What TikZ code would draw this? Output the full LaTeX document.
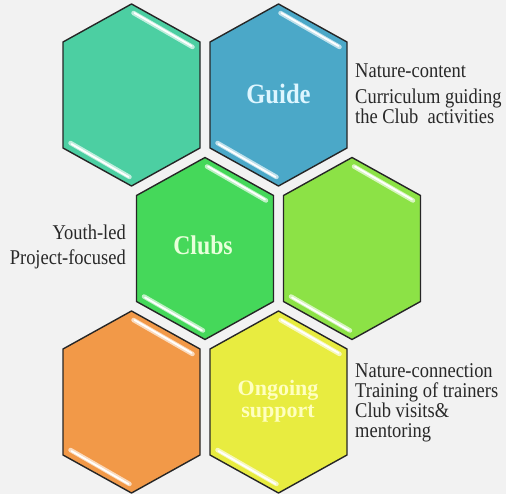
\documentclass[tikz,border=0pt]{standalone}
\usepackage{fontspec}
\setmainfont{Liberation Serif}
\newfontfamily\notefont[FakeStretch=0.88]{Liberation Serif}
\usepackage{xcolor}
\usepackage{tikz}
\usetikzlibrary{positioning,calc}

\definecolor{pagebg}{RGB}{242,242,242}
\definecolor{hexteal}{RGB}{76,207,162}
\definecolor{hexblue}{RGB}{75,168,200}
\definecolor{hexgreen}{RGB}{69,216,90}
\definecolor{hexlime}{RGB}{140,226,70}
\definecolor{hexorange}{RGB}{242,153,72}
\definecolor{hexyellow}{RGB}{232,236,64}
\definecolor{guidetext}{RGB}{222,246,255}
\definecolor{clubstext}{RGB}{232,255,218}
\definecolor{supporttext}{RGB}{255,255,192}
\definecolor{notetext}{RGB}{40,40,40}

\begin{document}
\begin{tikzpicture}[x=1pt, y=-1pt,
    hexline/.style={draw=black!85, line width=1.4pt, line join=round},
    gloss/.style={line width=4.5pt, line cap=round},
    pics/hexcell/.style={code={
        \draw[hexline, fill=#1] (0,-91) -- (68.5,-53) -- (68.5,53) -- (0,91) -- (-68.5,53) -- (-68.5,-53) -- cycle;
        \draw[gloss, draw=#1!35!white] (2,-82) -- (61,-48);
        \draw[gloss, draw=#1!35!white] (-2,82) -- (-61,48);
        \draw[line width=1.8pt, line cap=round, white] (3,-82) -- (60,-49);
        \draw[line width=1.8pt, line cap=round, white] (-3,82) -- (-60,49);
    }},
    hexlabel/.style={font=\notefont\bfseries\fontsize{28}{28}\selectfont},
    note/.style={font=\notefont\fontsize{21}{20}\selectfont, text=notetext, inner sep=0pt}]
        \fill[pagebg] (0,0) rectangle (506,494);
        \useasboundingbox (0,0) rectangle (506,494);

        % Row 1
        \pic at (131.5,95) {hexcell=hexteal};
        \pic at (278.5,95) {hexcell=hexblue};
        \node (guide) [hexlabel, text=guidetext, anchor=base] at (278.5,103.5) {Guide};

        % Row 2
        \pic at (205,248.5) {hexcell=hexgreen};
        \pic at (352,248.5) {hexcell=hexlime};
        \node (clubs) [hexlabel, text=clubstext, anchor=base, font=\notefont\bfseries\fontsize{27}{27}\selectfont] at (203,255) {Clubs};

        % Row 3
        \pic at (131.5,402) {hexcell=hexorange};
        \pic at (278.5,402) {hexcell=hexyellow};
        \node (support) [text=supporttext, anchor=base, align=center, inner sep=0pt, font=\bfseries\fontsize{22}{21.5}\selectfont] at (278,417) {Ongoing\\support};

        % Notes (base = last line)
        \node (content) [note, anchor=base west] at (355,78) {Nature-content};
        \node (curriculum) [note, anchor=base west, align=left, font=\notefont\fontsize{21}{19}\selectfont] at (355,124) {Curriculum guiding\\the Club~ activities};
        \node (youth) [note, anchor=base east, align=right, font=\notefont\fontsize{21}{25}\selectfont] at (126,265) {Youth-led\\Project-focused};
        \node (training) [note, anchor=base west, align=left] at (355,437) {Nature-connection\\Training of trainers\\Club visits\&\\mentoring};
    \end{tikzpicture}
\end{document}
